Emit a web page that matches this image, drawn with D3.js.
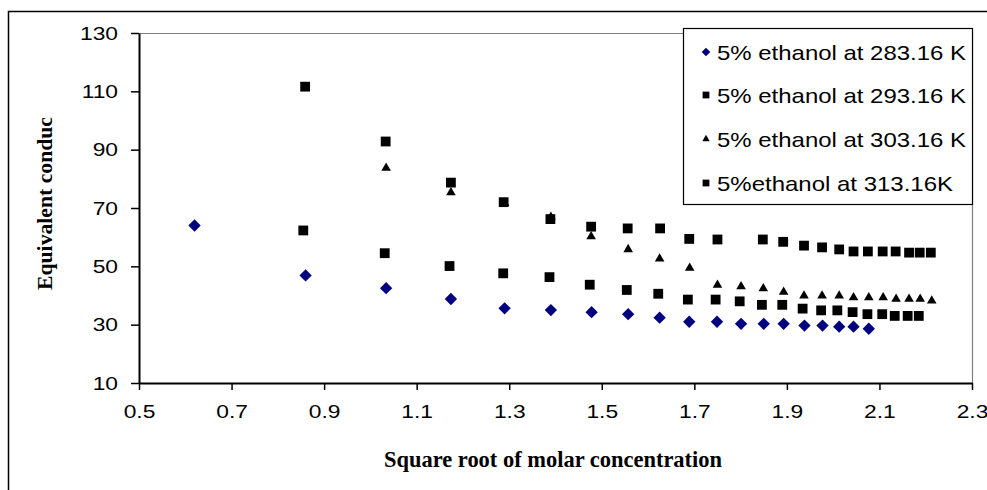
<!DOCTYPE html>
<html>
<head>
<meta charset="utf-8">
<script src="https://cdn.jsdelivr.net/npm/d3@7"></script>
<style>
  body { margin: 0; background: #fff; }
  svg { display: block; }
</style>
</head>
<body>
<svg id="chart" width="987" height="490"></svg>
<script>
// Axis ticks
const xTicks = [0.5, 0.7, 0.9, 1.1, 1.3, 1.5, 1.7, 1.9, 2.1, 2.3];
const yTicks = [10, 30, 50, 70, 90, 110, 130];

// Series labels
const seriesNames = [
  "5% ethanol at 283.16 K",
  "5% ethanol at 293.16 K",
  "5% ethanol at 303.16 K",
  "5%ethanol at 313.16K"
];

// 283.16 K
const x283 = [0.62, 0.86, 1.034, 1.174, 1.29, 1.39, 1.478, 1.557, 1.625, 1.689, 1.749, 1.801, 1.85, 1.893, 1.938, 1.977, 2.013, 2.044, 2.077];
const y283 = [64.0, 46.9, 42.5, 38.8, 35.6, 35.0, 34.3, 33.6, 32.4, 31.0, 31.0, 30.3, 30.3, 30.3, 29.7, 29.7, 29.3, 29.3, 28.6];

// 293.16 K
const x293 = [0.855, 1.031, 1.171, 1.287, 1.387, 1.474, 1.554, 1.622, 1.686, 1.746, 1.798, 1.846, 1.89, 1.934, 1.974, 2.009, 2.042, 2.074, 2.106, 2.133, 2.161, 2.185];
const y293 = [62.3, 54.5, 50.1, 47.6, 46.3, 43.7, 41.9, 40.6, 38.6, 38.6, 38.0, 36.8, 36.8, 35.5, 34.9, 34.9, 34.3, 33.6, 33.6, 33.0, 33.0, 33.0];

// 303.16 K
const x303 = [1.034, 1.174, 1.29, 1.39, 1.477, 1.557, 1.625, 1.69, 1.75, 1.801, 1.849, 1.893, 1.937, 1.976, 2.013, 2.044, 2.077, 2.108, 2.136, 2.164, 2.188, 2.213];
const y303 = [83.7, 75.3, 71.6, 66.9, 60.2, 55.8, 52.6, 49.4, 43.6, 43.1, 42.4, 41.2, 39.9, 39.9, 39.9, 39.3, 39.3, 39.3, 38.8, 38.8, 38.8, 38.2];

// 313.16 K
const x313 = [0.859, 1.033, 1.174, 1.288, 1.389, 1.477, 1.556, 1.626, 1.689, 1.75, 1.848, 1.892, 1.937, 1.976, 2.013, 2.044, 2.075, 2.107, 2.135, 2.164, 2.187, 2.211];
const y313 = [111.6, 92.8, 78.7, 72.0, 66.2, 63.6, 63.0, 63.0, 59.4, 59.2, 59.2, 58.4, 57.1, 56.5, 55.8, 55.1, 55.1, 55.1, 55.1, 54.7, 54.7, 54.7];

const xTitle = "Square root of molar concentration";
const yTitle = "Equivalent conduc";

const svg = d3.select("#chart");
const W = 987, H = 490;
const plot = { left: 139, right: 972, top: 33, bottom: 383 };

const x = d3.scaleLinear().domain([0.5, 2.3]).range([plot.left, plot.right]);
const y = d3.scaleLinear().domain([10, 130]).range([plot.bottom, plot.top]);

// Outer chart frame (extends past the right/bottom edge)
svg.append("rect")
  .attr("x", 8.5).attr("y", 11.5)
  .attr("width", W + 10).attr("height", H + 10)
  .attr("fill", "#fff").attr("stroke", "#000").attr("stroke-width", 1.5);

// Plot area top/right borders (grey)
svg.append("path")
  .attr("d", `M${plot.left},${plot.top + 0.5}H${plot.right + 0.5}V${plot.bottom}`)
  .attr("fill", "none").attr("stroke", "#808080").attr("stroke-width", 1.2);

const sansFont = "'Liberation Sans', Arial, sans-serif";
const serifFont = "'Liberation Serif', 'Times New Roman', serif";
const labelStretch = 1.2;

// Y axis
const yAxis = svg.append("g")
  .attr("transform", `translate(${plot.left},0)`)
  .call(d3.axisLeft(y).tickValues(yTicks).tickSize(8).tickSizeOuter(0));
yAxis.select(".domain").attr("stroke-width", 2);
yAxis.selectAll(".tick line").attr("stroke-width", 1.5);
yAxis.selectAll(".tick text")
  .attr("font-family", sansFont).attr("font-size", 19).attr("fill", "#000")
  .attr("transform", `scale(${labelStretch},1)`)
  .attr("x", -21 / labelStretch);

// X axis
const xAxis = svg.append("g")
  .attr("transform", `translate(0,${plot.bottom})`)
  .call(d3.axisBottom(x).tickValues(xTicks).tickFormat(d3.format(".1f")).tickSize(7).tickSizeOuter(0).tickPadding(15));
xAxis.select(".domain").attr("stroke-width", 2);
xAxis.selectAll(".tick line").attr("stroke-width", 1.5);
xAxis.selectAll(".tick text")
  .attr("font-family", sansFont).attr("font-size", 19).attr("fill", "#000")
  .attr("transform", `scale(${labelStretch},1)`);

// Axis titles
svg.append("text")
  .attr("x", 384).attr("y", 467)
  .attr("font-family", serifFont).attr("font-weight", "bold").attr("font-size", 23)
  .attr("textLength", 338).attr("lengthAdjust", "spacingAndGlyphs")
  .text(xTitle);

svg.append("text")
  .attr("transform", "translate(52,290) rotate(-90)")
  .attr("font-family", serifFont).attr("font-weight", "bold").attr("font-size", 22)
  .attr("textLength", 173).attr("lengthAdjust", "spacingAndGlyphs")
  .text(yTitle);

// Marker shapes
const markers = [
  { color: "#000080", path: d3.symbol(d3.symbolSquare, 76)(), rotate: 45 },
  { color: "#000", path: d3.symbol(d3.symbolSquare, 96)(), rotate: 0 },
  { color: "#000", path: d3.symbol(d3.symbolTriangle, 40)(), rotate: 0 },
  { color: "#000", path: d3.symbol(d3.symbolSquare, 96)(), rotate: 0 }
];
const legendMarkers = [
  { color: "#000080", path: d3.symbol(d3.symbolSquare, 38)(), rotate: 45 },
  { color: "#000", path: d3.symbol(d3.symbolSquare, 46)(), rotate: 0 },
  { color: "#000", path: d3.symbol(d3.symbolTriangle, 24)(), rotate: 0 },
  { color: "#000", path: d3.symbol(d3.symbolSquare, 46)(), rotate: 0 }
];

const series = [
  d3.zip(x283, y283),
  d3.zip(x293, y293),
  d3.zip(x303, y303),
  d3.zip(x313, y313)
];

series.forEach((pts, i) => {
  const m = markers[i];
  svg.append("g").selectAll("path")
    .data(pts)
    .join("path")
    .attr("d", m.path)
    .attr("fill", m.color)
    .attr("transform", d => `translate(${x(d[0])},${y(d[1])}) rotate(${m.rotate})`);
});

// Legend
const legend = svg.append("g");
legend.append("rect")
  .attr("x", 683.5).attr("y", 28.5).attr("width", 289).attr("height", 176)
  .attr("fill", "#fff").attr("stroke", "#000").attr("stroke-width", 1.2);

const legendRows = [52, 95, 139, 183];
const legendWidths = [249, 249, 249, 236];
seriesNames.forEach((name, i) => {
  const m = legendMarkers[i];
  legend.append("path")
    .attr("d", m.path).attr("fill", m.color)
    .attr("transform", `translate(706,${legendRows[i]}) rotate(${m.rotate})`);
  legend.append("text")
    .attr("x", 717).attr("y", legendRows[i]).attr("dy", "0.36em")
    .attr("font-family", sansFont).attr("font-size", 21).attr("fill", "#000")
    .attr("textLength", legendWidths[i]).attr("lengthAdjust", "spacingAndGlyphs")
    .text(name);
});
</script>
</body>
</html>
